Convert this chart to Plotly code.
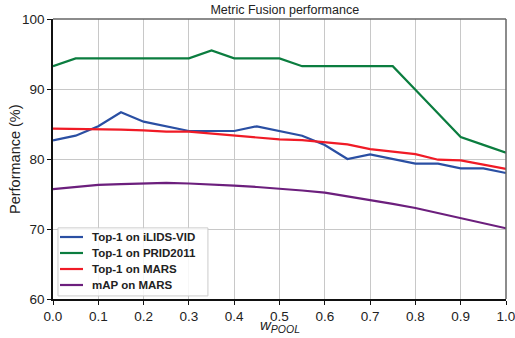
import plotly.graph_objects as go

w_pool = [0.0, 0.05, 0.1, 0.15, 0.2, 0.25, 0.3, 0.35, 0.4, 0.45, 0.5,
          0.55, 0.6, 0.65, 0.7, 0.75, 0.8, 0.85, 0.9, 0.95, 1.0]

top1_ilids = [82.67, 83.33, 84.67, 86.67, 85.33, 84.67, 84.0, 84.0, 84.0, 84.67, 84.0,
              83.33, 82.0, 80.0, 80.67, 80.0, 79.33, 79.33, 78.67, 78.67, 78.0]
top1_prid = [93.26, 94.38, 94.38, 94.38, 94.38, 94.38, 94.38, 95.51, 94.38, 94.38, 94.38,
             93.26, 93.26, 93.26, 93.26, 93.26, 89.89, 86.52, 83.15, 82.02, 80.90]
top1_mars = [84.33, 84.3, 84.2, 84.2, 84.1, 83.9, 83.9, 83.6, 83.4, 83.0, 82.8,
             82.7, 82.4, 82.1, 81.4, 81.1, 80.7, 79.9, 79.8, 79.2, 78.6]
map_mars = [75.7, 76.0, 76.3, 76.4, 76.5, 76.6, 76.5, 76.4, 76.2, 76.0, 75.8,
            75.5, 75.2, 74.7, 74.1, 73.6, 73.0, 72.3, 71.6, 70.9, 70.1]

series_names = ["Top-1 on iLIDS-VID", "Top-1 on PRID2011", "Top-1 on MARS", "mAP on MARS"]
series_values = [top1_ilids, top1_prid, top1_mars, map_mars]
series_colors = ["#2a4fa3", "#0b7d3f", "#f01b26", "#6c1f7d"]

x_ticks = [0.0, 0.1, 0.2, 0.3, 0.4, 0.5, 0.6, 0.7, 0.8, 0.9, 1.0]
y_ticks = [60, 70, 80, 90, 100]

font_family = "Liberation Sans, Arial, sans-serif"

fig = go.Figure()
for name, vals, col in zip(series_names, series_values, series_colors):
    fig.add_trace(go.Scatter(x=w_pool, y=vals, mode="lines", name=name,
                             line=dict(color=col, width=2.2), showlegend=False))

fig.update_layout(
    width=515, height=338,
    margin=dict(l=53, r=9, t=19, b=39),
    paper_bgcolor="white", plot_bgcolor="white",
    font=dict(family=font_family, color="#222222"),
    title=dict(text="Metric Fusion performance", x=0.553, xanchor="center",
               y=0.972, yanchor="middle", font=dict(size=12.5, color="#222222")),
    showlegend=False,
    xaxis=dict(range=[0, 1.0], tickvals=x_ticks,
               ticktext=[f"{v:.1f}" for v in x_ticks],
               showgrid=True, gridcolor="#c8c8c8", gridwidth=1,
               showline=True, linecolor="#111111", linewidth=1.5,
               ticks="outside", ticklen=4, tickcolor="#111111",
               tickfont=dict(size=13.5), zeroline=False, automargin=False,
               ticklabeloverflow="allow"),
    yaxis=dict(range=[60, 100], tickvals=y_ticks,
               showgrid=True, gridcolor="#c8c8c8", gridwidth=1,
               showline=True, linecolor="#111111", linewidth=1.5,
               ticks="outside", ticklen=4, tickcolor="#111111",
               tickfont=dict(size=13.5), zeroline=False, automargin=False,
               ticklabeloverflow="allow"),
)

# axis titles
fig.add_annotation(text="<i>w<sub>POOL</sub></i>", xref="paper", yref="paper",
                   x=0.5, y=0, yshift=-26, xanchor="center", yanchor="middle",
                   showarrow=False, font=dict(size=15, color="#222222"))
fig.add_annotation(text="Performance (%)", xref="paper", yref="paper",
                   x=-0.0839, y=0.5, xanchor="center", yanchor="middle", textangle=-90,
                   showarrow=False, font=dict(size=14.5, color="#222222"))

# top and right frame lines (gray)
fig.add_shape(type="line", xref="paper", yref="paper", x0=0, x1=1, y0=1, y1=1,
              line=dict(color="#666666", width=1.5))
fig.add_shape(type="line", xref="paper", yref="paper", x0=1, x1=1, y0=0, y1=1,
              line=dict(color="#666666", width=1.5))

# legend box
fig.add_shape(type="rect", xref="paper", yref="paper", x0=0.011, x1=0.342,
              y0=0.011, y1=0.254, line=dict(color="#cccccc", width=1),
              fillcolor="rgba(255,255,255,0.85)", layer="above")
row_y = [0.2214, 0.1643, 0.1071, 0.05]
for ry, name, col in zip(row_y, series_names, series_colors):
    fig.add_shape(type="line", xref="paper", yref="paper", x0=0.0155, x1=0.0662,
                  y0=ry, y1=ry, line=dict(color=col, width=2.2), layer="above")
    fig.add_annotation(text=f"<b>{name}</b>", xref="paper", yref="paper",
                       x=0.0817, y=ry, xanchor="left", yanchor="middle",
                       showarrow=False, font=dict(size=11.5, color="#222222"))

fig.write_html("out.html", config={"displayModeBar": False},
               post_script="document.body.style.margin='0';document.body.style.overflow='hidden';")
